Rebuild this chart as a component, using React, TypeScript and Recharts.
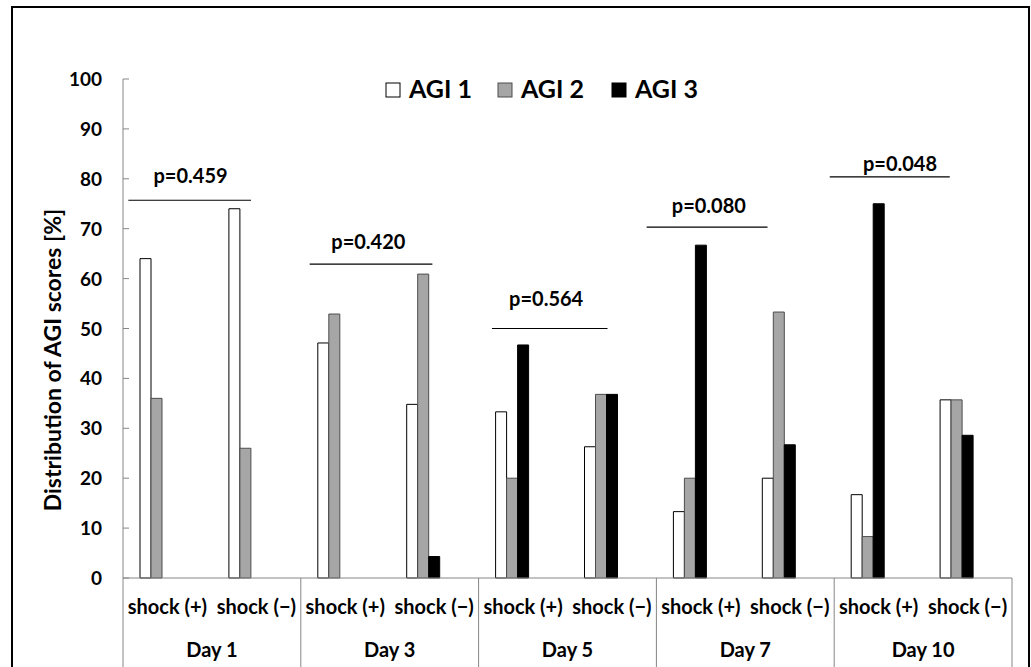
import { BarChart, Bar, XAxis, YAxis } from 'recharts';

// categories / tick labels
const groups = ['shock (+)', 'shock (\u2212)', 'shock (+)', 'shock (\u2212)', 'shock (+)', 'shock (\u2212)', 'shock (+)', 'shock (\u2212)', 'shock (+)', 'shock (\u2212)'];
const days = ['Day 1', 'Day 3', 'Day 5', 'Day 7', 'Day 10'];
const yTicks = [0, 10, 20, 30, 40, 50, 60, 70, 80, 90, 100];

// series values (%)
const agi1 = [64, 74, 47.1, 34.8, 33.3, 26.3, 13.3, 20, 16.7, 35.7];
const agi2 = [36, 26, 52.9, 60.9, 20, 36.8, 20, 53.3, 8.3, 35.7];
const agi3 = [0, 0, 0, 4.3, 46.7, 36.8, 66.7, 26.7, 75, 28.6];

// p-value annotations (one per day)
const pLabels = ['p=0.459', 'p=0.420', 'p=0.564', 'p=0.080', 'p=0.048'];
const pLineLevel = [75.7, 62.9, 50.0, 70.3, 80.4];
const pLabelLevel = [79.2, 65.9, 54.6, 73.2, 81.6];
const pLineFrom = [0.06, 2.1, 4.15, 5.89, 7.95];
const pLineTo = [1.44, 3.48, 5.45, 7.25, 9.3];
const pLabelAt = [0.76, 2.76, 4.76, 6.59, 8.74];

const series = [
  { key: 'agi1', name: 'AGI 1', fill: '#ffffff', stroke: '#000000' },
  { key: 'agi2', name: 'AGI 2', fill: '#a6a6a6', stroke: '#4d4d4d' },
  { key: 'agi3', name: 'AGI 3', fill: '#000000', stroke: '#000000' },
];

const data = groups.map((g, i) => ({
  id: `${days[Math.floor(i / 2)]} ${g}`,
  label: g,
  agi1: agi1[i],
  agi2: agi2[i],
  agi3: agi3[i],
}));

const W = 1031;
const H = 667;
const PLOT_LEFT = 123;
const PLOT_RIGHT = 1012;
const PLOT_TOP = 79;
const PLOT_BOTTOM = 578;
const CAT_W = (PLOT_RIGHT - PLOT_LEFT) / groups.length;
const FONT = 'Lato, "Open Sans", sans-serif';
const AXIS_GRAY = '#868686';

const yPix = (v: number) => PLOT_BOTTOM - ((PLOT_BOTTOM - PLOT_TOP) * v) / 100;
const xPix = (c: number) => PLOT_LEFT + c * CAT_W;

const YTick = ({ y, payload }: any) => (
  <g>
    <line x1={PLOT_LEFT} x2={PLOT_LEFT + 6} y1={y} y2={y} stroke={AXIS_GRAY} />
    <text x={102} y={y} dy={7} textAnchor="end" fontFamily={FONT} fontWeight={700} fontSize={19} fill="#000">
      {payload.value}
    </text>
  </g>
);

const XTick = ({ x, index }: any) => {
  const left = x - CAT_W / 2;
  return (
    <g>
      {index % 2 === 0 && (
        <line x1={left} x2={left} y1={PLOT_BOTTOM} y2={H} stroke={AXIS_GRAY} />
      )}
      {index === groups.length - 1 && (
        <line x1={left + CAT_W} x2={left + CAT_W} y1={PLOT_BOTTOM} y2={H} stroke={AXIS_GRAY} />
      )}
      <text x={x} y={614} textAnchor="middle" fontFamily={FONT} fontWeight={700} fontSize={20} fill="#000">
        {groups[index]}
      </text>
      {index % 2 === 0 && (
        <text x={x + CAT_W / 2} y={657} textAnchor="middle" fontFamily={FONT} fontWeight={700} fontSize={20} fill="#000">
          {days[index / 2]}
        </text>
      )}
    </g>
  );
};

export default function App() {
  const legendX = [386, 498, 612];
  return (
    <div style={{ position: 'absolute', left: 0, top: 0, width: W, height: H, overflow: 'hidden', background: '#fff' }}>
      <div
        style={{
          position: 'absolute',
          left: 11,
          top: 6,
          width: 1015,
          height: 720,
          border: '2px solid #000',
        }}
      />
      <BarChart
        width={W}
        height={H}
        data={data}
        margin={{ top: PLOT_TOP, right: W - PLOT_RIGHT, bottom: 0, left: 0 }}
        barSize={11}
        barGap={0}
      >
        <YAxis
          width={PLOT_LEFT}
          domain={[0, 100]}
          ticks={yTicks}
          interval={0}
          tickLine={false}
          tick={<YTick />}
          axisLine={{ stroke: AXIS_GRAY }}
        />
        <XAxis
          dataKey="id"
          height={H - PLOT_BOTTOM}
          interval={0}
          tickLine={false}
          tick={<XTick />}
          axisLine={{ stroke: AXIS_GRAY }}
        />
        {series.map((s) => (
          <Bar key={s.key} dataKey={s.key} name={s.name} fill={s.fill} stroke={s.stroke} strokeWidth={1} isAnimationActive={false} />
        ))}
        {/* empty slots: the source chart reserves room for two more series per group */}
        <Bar dataKey="pad1" fill="none" isAnimationActive={false} />
        <Bar dataKey="pad2" fill="none" isAnimationActive={false} />
      </BarChart>
      <svg width={W} height={H} style={{ position: 'absolute', left: 0, top: 0, pointerEvents: 'none' }}>
        <text
          x={0}
          y={0}
          transform={`translate(61, 360) rotate(-90)`}
          textAnchor="middle"
          fontFamily={FONT}
          fontWeight={700}
          fontSize={23}
          fill="#000"
        >
          Distribution of AGI scores [%]
        </text>
        {series.map((s, i) => (
          <g key={s.key}>
            <rect x={legendX[i]} y={83} width={14} height={14} fill={s.fill} stroke={s.stroke} />
            <text x={legendX[i] + 23} y={98} fontFamily={FONT} fontWeight={700} fontSize={25} fill="#000">
              {s.name}
            </text>
          </g>
        ))}
        {pLabels.map((p, i) => (
          <g key={p}>
            <line x1={xPix(pLineFrom[i])} x2={xPix(pLineTo[i])} y1={yPix(pLineLevel[i])} y2={yPix(pLineLevel[i])} stroke="#000" strokeWidth={1.2} />
            <text x={xPix(pLabelAt[i])} y={yPix(pLabelLevel[i])} textAnchor="middle" fontFamily={FONT} fontWeight={700} fontSize={20} fill="#000">
              {p}
            </text>
          </g>
        ))}
      </svg>
    </div>
  );
}
